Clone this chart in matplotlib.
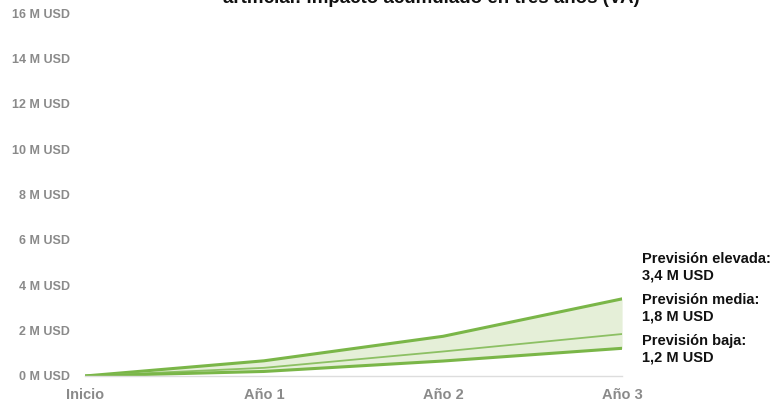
import numpy as np
import matplotlib.pyplot as plt

# datos (millones de USD, acumulado)
periodos = ["Inicio", "Año 1", "Año 2", "Año 3"]
prev_elevada = [0, 0.67, 1.75, 3.4]
prev_media = [0, 0.36, 1.08, 1.85]
prev_baja = [0, 0.2, 0.66, 1.22]
yticks = [0, 2, 4, 6, 8, 10, 12, 14, 16]
etiquetas = ["Previsión elevada:\n3,4 M USD", "Previsión media:\n1,8 M USD", "Previsión baja:\n1,2 M USD"]

plt.rcParams['font.family'] = ['Liberation Sans', 'DejaVu Sans']
verde = '#7ab648'

fig = plt.figure(figsize=(7.75, 4.12), dpi=100)
ax = fig.add_axes([0.1097, 0.0874, 0.693, 0.881])
x = np.arange(len(periodos))

ax.fill_between(x, prev_baja, prev_elevada, color='#e5efd8', lw=0)
ax.plot(x, prev_elevada, color=verde, lw=2.2, solid_capstyle='round')
ax.plot(x, prev_media, color='#8cc063', lw=1.3)
ax.plot(x, prev_baja, color=verde, lw=2.2, solid_capstyle='round')

ax.set_xlim(0, 3)
ax.set_ylim(0, 16)
ax.set_xticks(x)
ax.set_xticklabels(periodos, fontsize=10.5, fontweight='bold', color='#8a8a8a')
ax.set_yticks(yticks)
ax.set_yticklabels([f"{v} M USD" for v in yticks], fontsize=9, fontweight='bold', color='#8a8a8a')
ax.tick_params(axis='both', length=0)
ax.tick_params(axis='y', pad=11)
ax.tick_params(axis='x', pad=9)
for s in ['top', 'right', 'left']:
    ax.spines[s].set_visible(False)
ax.spines['bottom'].set_color('#dddddd')
ax.spines['bottom'].set_linewidth(1)

# etiquetas a la derecha
for txt, ytop in zip(etiquetas, [0.388, 0.289, 0.19]):
    fig.text(0.828, ytop, txt, fontsize=10.5, fontweight='bold', color='#111111',
             va='top', linespacing=1.25)

# título (cortado en la parte superior)
fig.text(0.557, 0.992, "artificial: impacto acumulado en tres años (VA)", fontsize=13.5,
         fontweight='bold', color='#111111', ha='center', va='baseline')

fig.savefig('out.png', dpi=100)
